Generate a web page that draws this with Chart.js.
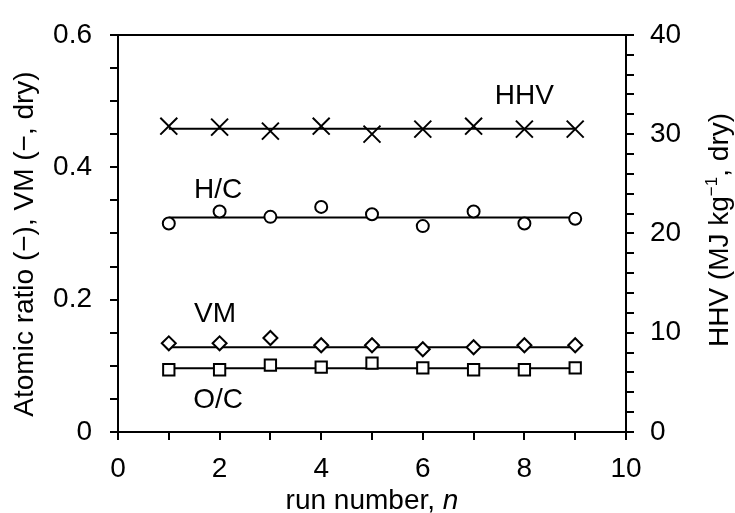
<!DOCTYPE html>
<html>
<head>
<meta charset="utf-8">
<script src="https://cdn.jsdelivr.net/npm/chart.js@4.4.1/dist/chart.umd.min.js"></script>
<style>
  html, body { margin: 0; padding: 0; background: #fff; }
</style>
</head>
<body>
<canvas id="chart" width="735" height="513"></canvas>
<script>
// run numbers and measured values per run
const runs = [1, 2, 3, 4, 5, 6, 7, 8, 9];
const hhv = [30.8, 30.7, 30.3, 30.8, 30.0, 30.5, 30.8, 30.5, 30.5];
const hcRatio = [0.315, 0.333, 0.325, 0.340, 0.329, 0.311, 0.333, 0.315, 0.322];
const vm = [0.134, 0.134, 0.142, 0.131, 0.131, 0.125, 0.128, 0.131, 0.131];
const ocRatio = [0.094, 0.094, 0.101, 0.098, 0.104, 0.097, 0.094, 0.094, 0.097];

// level of the horizontal line drawn through each series
const hhvLevel = 30.55;
const hcLevel = 0.324;
const vmLevel = 0.128;
const ocLevel = 0.0963;

const xTicksMajor = [0, 2, 4, 6, 8, 10];
const leftTicksMajor = [0, 0.2, 0.4, 0.6];
const rightTicksMajor = [0, 10, 20, 30, 40];

const FONT = '"Liberation Sans", Arial, Helvetica, sans-serif';
Chart.defaults.font.family = FONT;
Chart.defaults.font.size = 28;
Chart.defaults.color = '#000';

const points = ys => runs.map((x, i) => ({ x, y: ys[i] }));
const level = v => [{ x: runs[0], y: v }, { x: runs[runs.length - 1], y: v }];

function markerSet(label, data, axis, style, radius) {
  return {
    label, data, yAxisID: axis, order: 0,
    showLine: false,
    pointStyle: style,
    pointRadius: radius,
    pointBorderWidth: 2,
    pointBorderColor: '#000',
    pointBackgroundColor: '#fff'
  };
}
function lineSet(data, axis) {
  return {
    data, yAxisID: axis, order: 1,
    showLine: true,
    borderColor: '#000',
    borderWidth: 2,
    pointRadius: 0
  };
}

function isMajor(v, majors) {
  return majors.some(m => Math.abs(m - v) < 1e-9);
}

const axisLine = { color: '#000', width: 2 };
const tickGrid = { drawOnChartArea: false, tickLength: 8, color: '#000', lineWidth: 2 };

// series names placed next to each series (x, y on the given y axis)
const seriesNotes = [
  { text: 'HHV', x: 8.0, y: 33.0, axis: 'y1' },
  { text: 'H/C', x: 1.97, y: 0.353, axis: 'y' },
  { text: 'VM', x: 1.91, y: 0.1667, axis: 'y' },
  { text: 'O/C', x: 1.97, y: 0.0357, axis: 'y' }
];

const notesAndTitles = {
  id: 'notesAndTitles',
  afterDraw(chart) {
    const ctx = chart.ctx;
    const sx = chart.scales.x;
    ctx.save();
    ctx.fillStyle = '#000';
    ctx.font = '28px ' + FONT;
    ctx.textAlign = 'center';
    ctx.textBaseline = 'alphabetic';
    seriesNotes.forEach(n => {
      const sy = chart.scales[n.axis];
      ctx.fillText(n.text, sx.getPixelForValue(n.x), sy.getPixelForValue(n.y));
    });

    // x axis title with italic n
    const plain = 'run number, ';
    ctx.font = '28px ' + FONT;
    const w1 = ctx.measureText(plain).width;
    ctx.font = 'italic 28px ' + FONT;
    const w2 = ctx.measureText('n').width;
    let x0 = 372 - (w1 + w2) / 2;
    ctx.textAlign = 'left';
    ctx.font = '28px ' + FONT;
    ctx.fillText(plain, x0, 509);
    ctx.font = 'italic 28px ' + FONT;
    ctx.fillText('n', x0 + w1, 509);

    // left axis title
    ctx.save();
    ctx.translate(33, 244);
    ctx.rotate(-Math.PI / 2);
    ctx.font = '28px ' + FONT;
    ctx.textAlign = 'center';
    ctx.fillText('Atomic ratio (\u2212), VM (\u2212, dry)', 0, 0);
    ctx.restore();

    // right axis title with superscript
    ctx.save();
    ctx.translate(728, 230);
    ctx.rotate(-Math.PI / 2);
    ctx.textAlign = 'left';
    const a = 'HHV (MJ kg', sup = '\u22121', b = ', dry)';
    ctx.font = '28px ' + FONT;
    const wa = ctx.measureText(a).width;
    const wb = ctx.measureText(b).width;
    ctx.font = '17px ' + FONT;
    const ws = ctx.measureText(sup).width;
    let p = -(wa + ws + wb) / 2;
    ctx.font = '28px ' + FONT;
    ctx.fillText(a, p, 0);
    p += wa;
    ctx.font = '17px ' + FONT;
    ctx.fillText(sup, p, -11);
    p += ws;
    ctx.font = '28px ' + FONT;
    ctx.fillText(b, p, 0);
    ctx.restore();

    ctx.restore();
  }
};

new Chart(document.getElementById('chart'), {
  type: 'scatter',
  data: {
    datasets: [
      markerSet('HHV', points(hhv), 'y1', 'crossRot', 12),
      markerSet('H/C', points(hcRatio), 'y', 'circle', 6),
      markerSet('VM', points(vm), 'y', 'rectRot', 7),
      markerSet('O/C', points(ocRatio), 'y', 'rect', 8),
      lineSet(level(hhvLevel), 'y1'),
      lineSet(level(hcLevel), 'y'),
      lineSet(level(vmLevel), 'y'),
      lineSet(level(ocLevel), 'y')
    ]
  },
  options: {
    responsive: false,
    animation: false,
    layout: { padding: { top: 29, left: 0, right: 0, bottom: 0 } },
    plugins: {
      legend: { display: false },
      tooltip: { enabled: false }
    },
    scales: {
      x: {
        type: 'linear', position: 'bottom', min: 0, max: 10,
        border: axisLine,
        grid: tickGrid,
        ticks: {
          stepSize: 1, autoSkip: false, maxRotation: 0, padding: 12,
          callback: v => isMajor(v, xTicksMajor) ? String(v) : ''
        },
        afterFit: s => { s.height = 81; }
      },
      xTop: {
        type: 'linear', position: 'top', min: 0, max: 10,
        border: axisLine,
        grid: { display: false },
        ticks: { display: false },
        afterFit: s => { s.height = 0; }
      },
      y: {
        type: 'linear', position: 'left', min: 0, max: 0.6,
        border: axisLine,
        grid: tickGrid,
        ticks: {
          stepSize: 0.05, autoSkip: false, padding: 18,
          callback: v => isMajor(v, leftTicksMajor) ? (Math.abs(v) < 1e-9 ? '0' : v.toFixed(1)) : ''
        },
        afterFit: s => { s.width = 118; }
      },
      y1: {
        type: 'linear', position: 'right', min: 0, max: 40,
        border: axisLine,
        grid: tickGrid,
        ticks: {
          stepSize: 2, autoSkip: false, padding: 16,
          callback: v => isMajor(v, rightTicksMajor) ? String(v) : ''
        },
        afterFit: s => { s.width = 109; }
      }
    }
  },
  plugins: [notesAndTitles]
});
</script>
</body>
</html>
